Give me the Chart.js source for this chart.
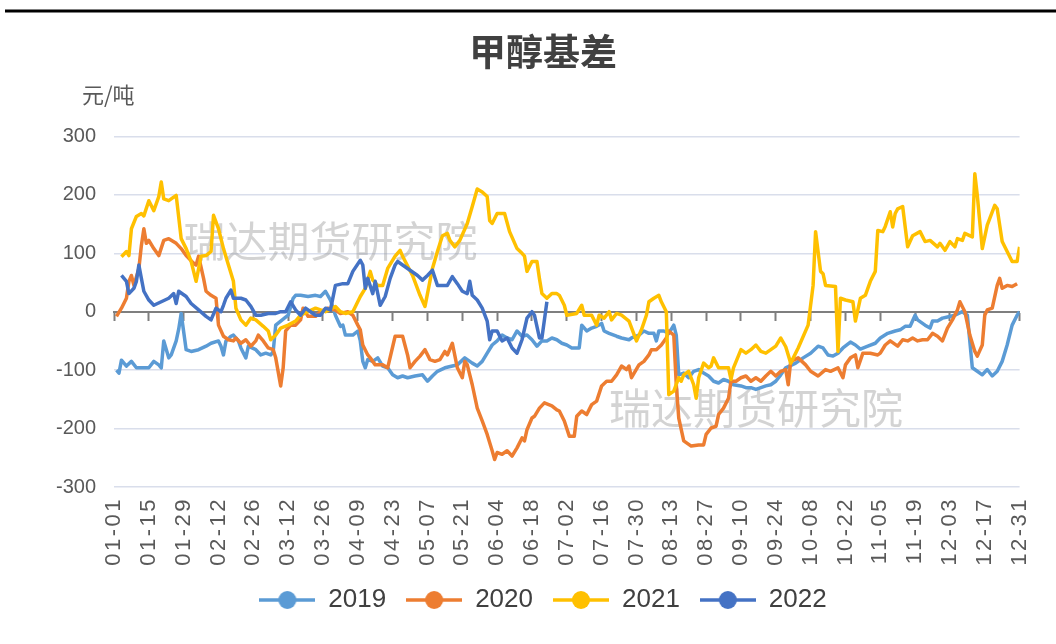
<!DOCTYPE html>
<html><head><meta charset="utf-8">
<script src="https://cdn.jsdelivr.net/npm/chart.js@4.4.0/dist/chart.umd.min.js"></script>
<style>html,body{margin:0;padding:0;background:#fff;}#wrap{width:1056px;height:644px;}</style>
</head><body><div id="wrap"><canvas id="c" width="1056" height="644"></canvas></div>
<script>
// x tick labels (every 14 days over a 365-day year, index 0 = 01-01)
const tickLabels = ['01-01','01-15','01-29','02-12','02-26','03-12','03-26','04-09','04-23','05-07','05-21','06-04','06-18','07-02','07-16','07-30','08-13','08-27','09-10','09-24','10-08','10-22','11-05','11-19','12-03','12-17','12-31'];
const seriesNames = ['2019','2020','2021','2022'];
const seriesColors = ['#5B9BD5','#ED7D31','#FFC000','#4472C4'];
const titleText = '甲醇基差';
const unitText = '元/吨';
const watermarkText = '瑞达期货研究院';

// [day of year (0 = 01-01), basis 元/吨]
const s2019 = [[1,-100],[2,-105],[3,-83],[5,-93],[7,-85],[9,-96],[11,-96],[14,-96],[16,-85],[18,-91],[19,-96],[20,-50],[22,-79],[23,-74],[25,-50],[26,-30],[27,-3],[29,-65],[31,-68],[34,-65],[37,-59],[39,-54],[42,-50],[43,-59],[44,-74],[45,-50],[47,-42],[48,-40],[50,-50],[51,-62],[53,-79],[54,-59],[57,-65],[59,-74],[61,-71],[63,-74],[64,-68],[65,-23],[67,-16],[70,-6],[72,23],[73,28],[75,28],[78,26],[81,28],[83,26],[85,35],[87,20],[89,-6],[91,-25],[92,-23],[93,-40],[96,-40],[98,-33],[99,-50],[100,-85],[101,-96],[102,-82],[104,-85],[106,-79],[108,-93],[110,-96],[112,-108],[114,-113],[116,-110],[118,-113],[121,-110],[124,-108],[126,-119],[128,-110],[130,-102],[133,-96],[136,-93],[138,-91],[141,-79],[144,-88],[146,-93],[148,-85],[150,-71],[152,-57],[154,-50],[156,-40],[158,-45],[160,-48],[162,-33],[164,-42],[166,-40],[168,-48],[170,-59],[172,-50],[174,-50],[176,-45],[178,-48],[180,-54],[182,-57],[184,-62],[187,-62],[188,-23],[190,-33],[192,-28],[194,-25],[196,-20],[197,-33],[199,-37],[202,-42],[204,-45],[207,-48],[208,-45],[211,-40],[213,-33],[215,-37],[217,-37],[218,-50],[219,-33],[221,-33],[223,-37],[225,-23],[226,-40],[227,-108],[229,-105],[231,-113],[233,-102],[235,-99],[237,-105],[239,-110],[241,-119],[243,-122],[245,-116],[247,-119],[249,-125],[252,-127],[254,-130],[256,-130],[258,-133],[260,-130],[262,-127],[264,-125],[266,-119],[268,-108],[270,-96],[274,-88],[277,-79],[280,-71],[283,-59],[285,-62],[287,-74],[289,-76],[291,-71],[293,-62],[296,-52],[298,-57],[300,-64],[303,-59],[306,-54],[308,-45],[311,-37],[314,-33],[316,-31],[318,-25],[320,-25],[322,-6],[323,-14],[326,-23],[328,-28],[329,-16],[331,-16],[333,-11],[335,-9],[338,-6],[341,0],[343,-6],[345,-96],[347,-102],[349,-108],[351,-99],[353,-110],[355,-102],[357,-85],[359,-57],[361,-23],[363,-6],[364,0]];
const s2020 = [[1,-8],[3,6],[5,23],[6,52],[7,62],[8,45],[10,74],[11,113],[12,142],[13,117],[14,122],[16,108],[18,96],[20,122],[22,125],[25,117],[27,108],[29,96],[32,83],[33,80],[34,95],[36,57],[37,35],[39,28],[41,23],[42,-23],[44,-42],[46,-48],[48,-50],[49,-45],[51,-54],[53,-48],[55,-59],[57,-50],[58,-40],[60,-50],[62,-62],[64,-65],[65,-79],[67,-127],[68,-96],[69,-33],[71,-23],[73,-23],[75,-14],[76,6],[78,-8],[81,-8],[83,0],[86,6],[89,3],[91,-3],[94,0],[96,-6],[98,-23],[99,-31],[100,-57],[102,-74],[103,-79],[105,-91],[108,-91],[110,-96],[113,-42],[116,-42],[118,-74],[119,-96],[121,-85],[123,-76],[125,-65],[127,-82],[129,-85],[131,-82],[133,-68],[134,-74],[136,-54],[138,-96],[140,-113],[141,-85],[142,-91],[144,-125],[146,-165],[148,-187],[150,-210],[152,-238],[153,-253],[154,-241],[156,-244],[158,-238],[160,-247],[162,-233],[164,-216],[165,-221],[166,-202],[168,-182],[169,-179],[171,-165],[173,-156],[176,-161],[178,-168],[179,-170],[181,-187],[183,-213],[185,-213],[186,-179],[188,-170],[190,-176],[192,-159],[194,-153],[196,-127],[198,-119],[200,-119],[202,-108],[204,-93],[206,-99],[207,-93],[208,-113],[211,-91],[213,-85],[215,-74],[216,-65],[218,-65],[220,-57],[222,-45],[223,-33],[225,-40],[226,-125],[227,-182],[229,-221],[232,-230],[235,-228],[237,-228],[238,-210],[240,-199],[242,-196],[243,-176],[245,-165],[247,-148],[248,-119],[250,-119],[252,-113],[254,-110],[256,-119],[258,-113],[260,-119],[262,-110],[264,-102],[266,-110],[268,-102],[270,-99],[271,-125],[272,-85],[275,-79],[278,-91],[280,-102],[283,-110],[286,-99],[288,-102],[291,-96],[293,-113],[294,-91],[296,-79],[298,-74],[299,-96],[301,-71],[304,-71],[307,-74],[308,-71],[310,-57],[312,-50],[315,-59],[317,-48],[319,-50],[321,-45],[323,-50],[325,-48],[327,-48],[329,-37],[331,-42],[333,-50],[335,-28],[337,-14],[339,3],[340,17],[342,0],[344,-40],[346,-68],[347,-76],[349,-57],[350,-6],[351,3],[353,6],[355,45],[356,57],[357,40],[359,45],[361,43],[363,48]];
const s2021 = [[3,94],[5,103],[6,96],[7,142],[9,163],[11,168],[12,164],[14,190],[16,173],[18,197],[19,222],[20,193],[22,190],[25,199],[27,125],[29,108],[31,86],[33,52],[35,95],[37,96],[39,103],[40,165],[42,142],[44,108],[46,80],[48,52],[49,6],[51,-14],[53,-23],[55,-11],[57,-14],[60,-25],[62,-33],[63,-48],[65,-40],[67,-28],[70,-23],[73,-16],[75,-6],[78,0],[81,6],[85,0],[89,9],[91,0],[93,-3],[96,0],[99,26],[101,40],[103,69],[104,54],[106,45],[108,45],[110,74],[113,95],[115,105],[116,95],[120,62],[123,28],[125,9],[128,74],[130,103],[132,130],[134,134],[135,122],[137,111],[139,122],[142,151],[144,180],[146,210],[148,205],[150,197],[151,156],[152,151],[154,168],[157,168],[159,137],[162,108],[164,100],[165,95],[166,69],[168,86],[170,86],[171,57],[172,31],[174,23],[176,31],[178,31],[179,28],[181,11],[182,-6],[186,-3],[188,11],[189,-6],[192,-6],[194,-23],[195,-6],[197,-11],[199,0],[200,-14],[202,-3],[204,-6],[207,-16],[210,-50],[212,-31],[214,-6],[215,17],[217,23],[219,28],[220,17],[222,0],[223,-142],[225,-136],[227,-113],[228,-119],[229,-108],[231,-102],[233,-125],[234,-148],[235,-113],[237,-88],[239,-96],[240,-93],[241,-79],[243,-96],[245,-96],[247,-96],[248,-116],[249,-96],[252,-65],[254,-71],[256,-65],[258,-57],[260,-68],[262,-71],[264,-65],[266,-59],[268,-45],[270,-60],[272,-88],[275,-62],[279,-23],[281,45],[282,137],[284,69],[285,65],[286,45],[290,43],[291,-68],[292,23],[294,20],[297,17],[298,-16],[300,23],[302,28],[304,52],[306,69],[307,139],[309,137],[310,146],[312,171],[313,145],[314,168],[315,176],[317,180],[319,111],[321,130],[324,137],[326,120],[328,122],[331,111],[332,117],[334,105],[336,120],[338,111],[339,125],[341,122],[342,134],[345,128],[346,236],[347,199],[349,108],[351,148],[354,182],[355,176],[357,120],[359,103],[361,86],[363,86],[364,111]];
const s2022 = [[3,62],[5,52],[6,31],[8,40],[9,52],[10,80],[11,57],[12,35],[14,20],[16,11],[19,17],[22,23],[24,31],[25,14],[26,35],[29,26],[31,14],[34,3],[37,-8],[39,-14],[41,6],[43,0],[44,11],[45,23],[47,37],[48,23],[51,23],[53,20],[55,9],[57,-6],[59,-6],[62,-3],[65,-3],[67,0],[69,0],[71,17],[73,3],[75,-6],[77,6],[79,0],[81,-6],[83,-6],[85,6],[87,3],[89,45],[92,48],[94,48],[96,69],[99,88],[100,80],[101,40],[102,57],[104,31],[105,52],[107,11],[109,26],[111,57],[113,80],[114,86],[116,80],[119,71],[122,62],[124,54],[126,62],[128,71],[130,45],[132,45],[134,45],[136,60],[138,48],[140,35],[142,31],[143,52],[144,28],[146,20],[148,6],[150,-16],[151,-48],[152,-33],[154,-33],[156,-50],[158,-45],[160,-62],[162,-71],[164,-48],[166,-11],[168,0],[169,-6],[171,-45],[172,-45],[174,17]];
const seriesData = [s2019, s2020, s2021, s2022];

function makeMarker(color) {
  const c = document.createElement('canvas');
  c.width = 56; c.height = 22;
  const g = c.getContext('2d');
  g.strokeStyle = color; g.lineWidth = 3.5;
  g.beginPath(); g.moveTo(0, 11); g.lineTo(56, 11); g.stroke();
  g.fillStyle = color;
  g.beginPath(); g.arc(28, 11, 9, 0, Math.PI * 2); g.fill();
  return c;
}

const decor = {
  id: 'decor',
  beforeDraw(chart) {
    const ctx = chart.ctx;
    const xs = chart.scales.x;
    if (xs && !xs._spaced) {
      const orig = xs.drawLabels.bind(xs);
      xs.drawLabels = function (area) {
        const c = this.ctx;
        const prev = c.letterSpacing;
        c.letterSpacing = '2.5px';
        orig(area);
        c.letterSpacing = prev || '0px';
      };
      xs._spaced = true;
    }
    ctx.save();
    ctx.fillStyle = '#ffffff';
    ctx.fillRect(0, 0, chart.width, chart.height);
    ctx.strokeStyle = '#000000';
    ctx.lineWidth = 3;
    ctx.beginPath(); ctx.moveTo(5, 11); ctx.lineTo(chart.width, 11); ctx.stroke();
    ctx.restore();
  },
  beforeDatasetsDraw(chart) {
    const ctx = chart.ctx;
    const xs = chart.scales.x, ys = chart.scales.y;
    ctx.save();
    ctx.font = '42px "Noto Sans CJK SC"';
    ctx.fillStyle = 'rgba(150,150,150,0.42)';
    ctx.textAlign = 'center';
    ctx.textBaseline = 'middle';
    ctx.fillText(watermarkText, xs.getPixelForValue(87), ys.getPixelForValue(121));
    ctx.fillText(watermarkText, xs.getPixelForValue(258), ys.getPixelForValue(-165));
    ctx.restore();
  },
  afterDraw(chart) {
    const ctx = chart.ctx;
    ctx.save();
    ctx.font = '22px "Noto Sans CJK SC"';
    ctx.fillStyle = '#595959';
    ctx.textAlign = 'left';
    ctx.textBaseline = 'middle';
    ctx.fillText(unitText, 82, 95);
    ctx.restore();
  }
};

const datasets = seriesData.map((s, i) => ({
  label: seriesNames[i],
  data: s.map(p => ({x: p[0], y: p[1]})),
  borderColor: seriesColors[i],
  backgroundColor: seriesColors[i],
  borderWidth: 3.5,
  pointRadius: 0,
  pointHoverRadius: 0,
  pointStyle: makeMarker(seriesColors[i]),
  tension: 0,
  fill: false,
  borderJoinStyle: 'round',
  order: 3 - i
}));

new Chart(document.getElementById('c'), {
  type: 'line',
  data: { datasets },
  plugins: [decor],
  options: {
    responsive: false,
    animation: false,
    devicePixelRatio: 1,
    layout: { padding: { left: 30, right: 0, top: 0, bottom: 21 } },
    plugins: {
      tooltip: { enabled: false },
      title: {
        display: true,
        text: titleText,
        color: '#404040',
        font: { family: '"Noto Sans CJK SC"', size: 37, weight: 'bold' },
        padding: { top: 30, bottom: 62 }
      },
      legend: {
        position: 'bottom',
        labels: {
          usePointStyle: true,
          pointStyleWidth: 56,
          padding: 20,
          color: '#404040',
          sort: (a, b) => a.datasetIndex - b.datasetIndex,
          font: { family: 'Arial, "Liberation Sans", sans-serif', size: 26 }
        }
      }
    },
    scales: {
      x: {
        type: 'linear',
        min: 0, max: 364,
        afterFit(s) { s.height = 80; },
        grid: { display: false, drawTicks: false },
        border: { display: false },
        ticks: {
          stepSize: 14,
          autoSkip: false,
          maxRotation: 90, minRotation: 90,
          padding: 10,
          color: '#595959',
          font: { family: 'Arial, "Liberation Sans", sans-serif', size: 22 },
          callback: (v) => tickLabels[Math.round(v / 14)] ?? ''
        }
      },
      x2: {
        type: 'linear',
        axis: 'x',
        position: { y: 0 },
        min: 0, max: 364,
        grid: { drawOnChartArea: false, drawTicks: true, tickLength: 8, tickColor: '#7f7f7f', tickWidth: 2 },
        border: { display: true, color: '#7f7f7f', width: 2 },
        ticks: { stepSize: 14, autoSkip: false, display: false }
      },
      y: {
        min: -300, max: 300,
        afterFit(s) { s.width = 84; },
        grid: { color: '#D9DEEB', lineWidth: 1.5, drawTicks: false },
        border: { display: false },
        ticks: {
          stepSize: 100,
          padding: 18,
          color: '#595959',
          font: { family: 'Arial, "Liberation Sans", sans-serif', size: 20 }
        }
      },
      yr: {
        type: 'linear',
        axis: 'y',
        position: 'right',
        min: 0, max: 1,
        afterFit(s) { s.width = 36; },
        grid: { display: false, drawTicks: false },
        border: { display: false },
        ticks: { display: false }
      }
    }
  }
});
</script></body></html>
